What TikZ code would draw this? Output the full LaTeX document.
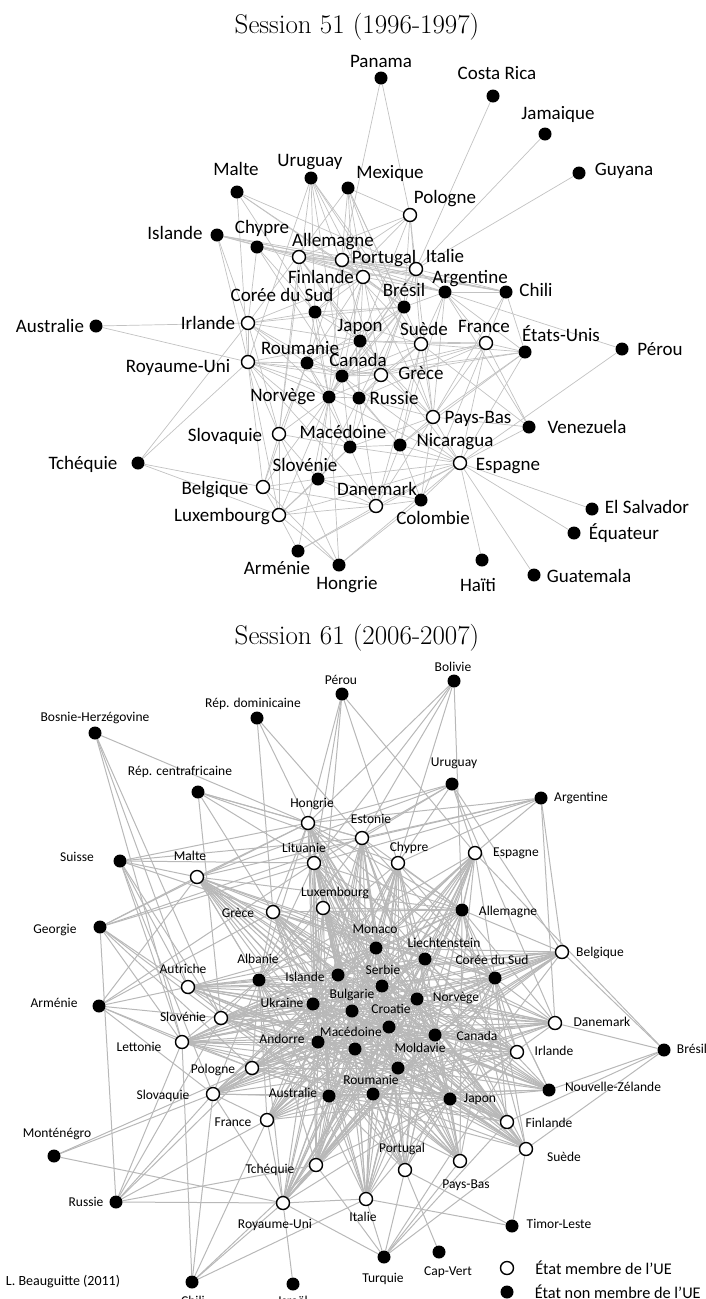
\documentclass[tikz,border=0pt]{standalone}
\usepackage{fontspec}
\newfontfamily\carl{Carlito}
\usetikzlibrary{backgrounds}

\tikzset{
  ue/.style={circle, draw=black, line width=1.4pt, fill=white, minimum size=13pt, inner sep=0pt},
  hors/.style={circle, fill=black, minimum size=13pt, inner sep=0pt},
  nomA/.style={font=\carl\fontsize{19}{19}\selectfont, inner sep=0pt, text height=12pt, text depth=0pt},
  nomB/.style={font=\carl\fontsize{13.5}{14}\selectfont, inner sep=0pt, text height=8.7pt, text depth=0pt},
  nomL/.style={font=\carl\fontsize{16.3}{17}\selectfont, inner sep=0pt},
  titre/.style={font=\fontsize{27}{32}\selectfont, inner sep=0pt},
  lienA/.style={draw=black!24, line width=0.7pt},
  lienB/.style={draw=black!28, line width=1pt},
}

\begin{document}
\begin{tikzpicture}[x=1pt, y=-1pt]
\useasboundingbox (0,0) rectangle (706,1299);

% ---- Session 51 ----
\node[titre] (titre51) at (357,27) {Session 51 (1996-1997)};

\node[hors, label={[nomA, shift={(0,-17)}]center:Panama}] (panama1) at (381,78) {};
\node[hors, label={[nomA, shift={(4,-23)}]center:Costa Rica}] (costarica1) at (493,96) {};
\node[hors, label={[nomA, shift={(13,-21)}]center:Jamaique}] (jamaique1) at (545,134) {};
\node[hors, label={[nomA, shift={(45,-4)}]center:Guyana}] (guyana1) at (579,173) {};
\node[hors, label={[nomA, shift={(-1,-23)}]center:Malte}] (malte1) at (237,192) {};
\node[hors, label={[nomA, shift={(-1,-18)}]center:Uruguay}] (uruguay1) at (311,178) {};
\node[hors, label={[nomA, shift={(42,-16)}]center:Mexique}] (mexique1) at (348,188) {};
\node[ue, label={[nomA, shift={(35,-18)}]center:Pologne}] (pologne1) at (410,215) {};
\node[hors, label={[nomA, shift={(-42,-2)}]center:Islande}] (islande1) at (217,235) {};
\node[hors, label={[nomA, shift={(5,-20)}]center:Chypre}] (chypre1) at (257,247) {};
\node[ue, label={[nomA, shift={(34,-17)}]center:Allemagne}] (allemagne1) at (299,257) {};
\node[ue, label={[nomA, shift={(42,-3)}]center:Portugal}] (portugal1) at (342,260) {};
\node[ue, label={[nomA, shift={(29,-13)}]center:Italie}] (italie1) at (416,269) {};
\node[ue, label={[nomA, shift={(-42,0)}]center:Finlande}] (finlande1) at (363,277) {};
\node[hors, label={[nomA, shift={(25,-15)}]center:Argentine}] (argentine1) at (445,292) {};
\node[hors, label={[nomA, shift={(30,-2)}]center:Chili}] (chili1) at (506,292) {};
\node[hors, label={[nomA, shift={(0,-17)}]center:Brésil}] (bresil1) at (404,307) {};
\node[hors, label={[nomA, shift={(-33,-17)}]center:Corée du Sud}] (coreedusud1) at (315,312) {};
\node[hors, label={[nomA, shift={(-46,0)}]center:Australie}] (australie1) at (96,326) {};
\node[ue, label={[nomA, shift={(-40,0)}]center:Irlande}] (irlande1) at (248,323) {};
\node[hors, label={[nomA, shift={(0,-16)}]center:Japon}] (japon1) at (360,341) {};
\node[ue, label={[nomA, shift={(3,-15)}]center:Suède}] (suede1) at (421,344) {};
\node[ue, label={[nomA, shift={(-2,-17)}]center:France}] (france1) at (486,343) {};
\node[hors, label={[nomA, shift={(36,-17)}]center:États-Unis}] (etatsunis1) at (525,352) {};
\node[hors, label={[nomA, shift={(38,0)}]center:Pérou}] (perou1) at (622,349) {};
\node[hors, label={[nomA, shift={(-7,-15)}]center:Roumanie}] (roumanie1) at (307,363) {};
\node[ue, label={[nomA, shift={(-70,4)}]center:Royaume-Uni}] (royaumeuni1) at (248,362) {};
\node[hors, label={[nomA, shift={(16,-16)}]center:Canada}] (canada1) at (342,376) {};
\node[ue, label={[nomA, shift={(40,-2)}]center:Grèce}] (grece1) at (381,375) {};
\node[hors, label={[nomA, shift={(-46,-2)}]center:Norvège}] (norvege1) at (329,397) {};
\node[hors, label={[nomA, shift={(35,0)}]center:Russie}] (russie1) at (359,398) {};
\node[ue, label={[nomA, shift={(45,0)}]center:Pays-Bas}] (paysbas1) at (433,417) {};
\node[hors, label={[nomA, shift={(58,0)}]center:Venezuela}] (venezuela1) at (529,427) {};
\node[ue, label={[nomA, shift={(-54,1)}]center:Slovaquie}] (slovaquie1) at (279,434) {};
\node[hors, label={[nomA, shift={(-7,-15)}]center:Macédoine}] (macedoine1) at (350,447) {};
\node[hors, label={[nomA, shift={(55,-5)}]center:Nicaragua}] (nicaragua1) at (400,445) {};
\node[hors, label={[nomA, shift={(-55,0)}]center:Tchéquie}] (tchequie1) at (138,463) {};
\node[ue, label={[nomA, shift={(48,1)}]center:Espagne}] (espagne1) at (460,463) {};
\node[hors, label={[nomA, shift={(-13,-14)}]center:Slovénie}] (slovenie1) at (318,479) {};
\node[ue, label={[nomA, shift={(-48,1)}]center:Belgique}] (belgique1) at (263,487) {};
\node[ue, label={[nomA, shift={(1,-17)}]center:Danemark}] (danemark1) at (376,506) {};
\node[hors, label={[nomA, shift={(12,18)}]center:Colombie}] (colombie1) at (421,500) {};
\node[ue, label={[nomA, shift={(-57,0)}]center:Luxembourg}] (luxembourg1) at (279,515) {};
\node[hors, label={[nomA, shift={(55,-2)}]center:El Salvador}] (elsalvador1) at (592,509) {};
\node[hors, label={[nomA, shift={(50,0)}]center:Équateur}] (equateur1) at (574,533) {};
\node[hors, label={[nomA, shift={(-21,17)}]center:Arménie}] (armenie1) at (298,551) {};
\node[hors, label={[nomA, shift={(8,18)}]center:Hongrie}] (hongrie1) at (339,565) {};
\node[hors, label={[nomA, shift={(-4,25)}]center:Haïti}] (haiti1) at (482,560) {};
\node[hors, label={[nomA, shift={(55,1)}]center:Guatemala}] (guatemala1) at (534,575) {};

\begin{scope}[on background layer]
\foreach \a/\liste in {%
  panama1/{portugal1,pologne1},%
  costarica1/{italie1},jamaique1/{italie1},guyana1/{italie1},%
  malte1/{royaumeuni1,italie1,finlande1,bresil1,coreedusud1},%
  uruguay1/{royaumeuni1,coreedusud1,canada1,suede1,grece1,paysbas1,slovaquie1,bresil1},%
  mexique1/{irlande1,bresil1,suede1,paysbas1,norvege1,russie1,grece1,pologne1},%
  pologne1/{allemagne1,portugal1,coreedusud1,suede1,bresil1,italie1,japon1},%
  islande1/{allemagne1,portugal1,italie1,chili1,argentine1,irlande1,royaumeuni1},%
  chypre1/{portugal1,chili1,finlande1,irlande1,coreedusud1,canada1},%
  allemagne1/{portugal1,italie1,chili1,argentine1,finlande1,japon1,grece1,espagne1,norvege1,slovaquie1},%
  portugal1/{italie1,finlande1,argentine1,chili1,bresil1,roumanie1,suede1},%
  italie1/{finlande1,argentine1,bresil1,chili1,japon1,canada1,paysbas1,norvege1},%
  australie1/{irlande1,royaumeuni1},%
  tchequie1/{irlande1,royaumeuni1,belgique1,luxembourg1},%
  perou1/{argentine1,espagne1},%
  espagne1/{elsalvador1,equateur1,haiti1,guatemala1,venezuela1,colombie1,danemark1,hongrie1,armenie1,nicaragua1,paysbas1,macedoine1,luxembourg1,etatsunis1,france1,norvege1,slovenie1,canada1},%
  venezuela1/{france1,paysbas1,suede1,argentine1},%
  chili1/{argentine1,france1,etatsunis1,paysbas1},%
  etatsunis1/{france1,suede1,argentine1,paysbas1,grece1,nicaragua1,canada1},%
  france1/{suede1,argentine1,grece1,paysbas1,russie1,canada1,japon1,colombie1},%
  argentine1/{bresil1,suede1,paysbas1,finlande1,nicaragua1},%
  bresil1/{finlande1,coreedusud1,japon1,canada1,russie1,norvege1,grece1,irlande1,roumanie1,macedoine1},%
  finlande1/{coreedusud1,japon1,irlande1,roumanie1,norvege1,canada1},%
  irlande1/{coreedusud1,roumanie1,canada1,royaumeuni1,japon1,norvege1,slovaquie1},%
  royaumeuni1/{roumanie1,canada1,norvege1,grece1,slovaquie1,belgique1,luxembourg1,japon1,russie1,danemark1,macedoine1},%
  coreedusud1/{japon1,canada1,roumanie1,norvege1,suede1},%
  japon1/{canada1,grece1,suede1,roumanie1,norvege1,russie1,paysbas1},%
  suede1/{grece1,canada1,paysbas1,nicaragua1,russie1,danemark1},%
  grece1/{canada1,russie1,norvege1,paysbas1,roumanie1},%
  canada1/{roumanie1,norvege1,russie1,macedoine1,nicaragua1},%
  roumanie1/{norvege1,slovaquie1,macedoine1,belgique1},%
  norvege1/{russie1,slovaquie1,macedoine1,slovenie1,luxembourg1,belgique1,armenie1,hongrie1},%
  russie1/{paysbas1,nicaragua1,macedoine1,danemark1,slovenie1},%
  paysbas1/{nicaragua1,colombie1,danemark1,macedoine1},%
  slovaquie1/{macedoine1,slovenie1,belgique1,luxembourg1,hongrie1},%
  macedoine1/{nicaragua1,slovenie1,danemark1,luxembourg1},%
  nicaragua1/{colombie1,danemark1},%
  slovenie1/{belgique1,luxembourg1,danemark1,colombie1},%
  belgique1/{luxembourg1,danemark1,hongrie1},%
  luxembourg1/{danemark1,armenie1,hongrie1},%
  danemark1/{colombie1,armenie1},%
  colombie1/{hongrie1}}
  \foreach \b in \liste \draw[lienA] (\a) -- (\b);
\end{scope}

% ---- Session 61 ----
\node[titre] (titre61) at (357,638) {Session 61 (2006-2007)};

\node[hors, label={[nomB, shift={(-1,-14)}]center:Bolivie}] (bolivie2) at (454,681) {};
\node[hors, label={[nomB, shift={(-1,-14)}]center:Pérou}] (perou2) at (342,694) {};
\node[hors, label={[nomB, shift={(-4,-15)}]center:Rép. dominicaine}] (repdominicaine2) at (257,718) {};
\node[hors, label={[nomB, shift={(0,-16)}]center:Bosnie-Herzégovine}] (bosnie2) at (95,733) {};
\node[hors, label={[nomB, shift={(2,-22)}]center:Uruguay}] (uruguay2) at (452,784) {};
\node[hors, label={[nomB, shift={(40,-1)}]center:Argentine}] (argentine2) at (541,798) {};
\node[hors, label={[nomB, shift={(-18,-21)}]center:Rép. centrafricaine}] (repcentrafricaine2) at (198,792) {};
\node[ue, label={[nomB, shift={(4,-20)}]center:Hongrie}] (hongrie2) at (308,823) {};
\node[ue, label={[nomB, shift={(9,-19)}]center:Estonie}] (estonie2) at (362,838) {};
\node[hors, label={[nomB, shift={(-43,-4)}]center:Suisse}] (suisse2) at (120,861) {};
\node[ue, label={[nomB, shift={(-7,-21)}]center:Malte}] (malte2) at (197,877) {};
\node[ue, label={[nomB, shift={(-10,-15)}]center:Lituanie}] (lituanie2) at (314,863) {};
\node[ue, label={[nomB, shift={(11,-16)}]center:Chypre}] (chypre2) at (398,863) {};
\node[ue, label={[nomB, shift={(41,-1)}]center:Espagne}] (espagne2) at (475,853) {};
\node[ue, label={[nomB, shift={(12,-16)}]center:Luxembourg}] (luxembourg2) at (323,908) {};
\node[ue, label={[nomB, shift={(-35,1)}]center:Grèce}] (grece2) at (273,912) {};
\node[hors, label={[nomB, shift={(46,1)}]center:Allemagne}] (allemagne2) at (462,910) {};
\node[hors, label={[nomB, shift={(-45,2)}]center:Georgie}] (georgie2) at (100,927) {};
\node[hors, label={[nomB, shift={(-1,-19)}]center:Monaco}] (monaco2) at (376,948) {};
\node[hors, label={[nomB, shift={(19,-16)}]center:Liechtenstein}] (liechtenstein2) at (425,959) {};
\node[ue, label={[nomB, shift={(38,0)}]center:Belgique}] (belgique2) at (562,952) {};
\node[hors, label={[nomB, shift={(-3,-18)}]center:Corée du Sud}] (coreedusud2) at (495,978) {};
\node[hors, label={[nomB, shift={(-1,-21)}]center:Albanie}] (albanie2) at (259,980) {};
\node[ue, label={[nomB, shift={(-5,-18)}]center:Autriche}] (autriche2) at (188,987) {};
\node[hors, label={[nomB, shift={(-33,2)}]center:Islande}] (islande2) at (338,975) {};
\node[hors, label={[nomB, shift={(1,-16)}]center:Serbie}] (serbie2) at (382,986) {};
\node[hors, label={[nomB, shift={(39,-2)}]center:Norvège}] (norvege2) at (417,999) {};
\node[hors, label={[nomB, shift={(-31,-1)}]center:Ukraine}] (ukraine2) at (313,1004) {};
\node[hors, label={[nomB, shift={(-45,-3)}]center:Arménie}] (armenie2) at (99,1006) {};
\node[hors, label={[nomB, shift={(0,-17)}]center:Bulgarie}] (bulgarie2) at (352,1011) {};
\node[hors, label={[nomB, shift={(2,-18)}]center:Croatie}] (croatie2) at (389,1027) {};
\node[ue, label={[nomB, shift={(-38,-1)}]center:Slovénie}] (slovenie2) at (221,1018) {};
\node[ue, label={[nomB, shift={(47,-1)}]center:Danemark}] (danemark2) at (555,1023) {};
\node[hors, label={[nomB, shift={(-4,-17)}]center:Macédoine}] (macedoine2) at (355,1049) {};
\node[hors, label={[nomB, shift={(42,1)}]center:Canada}] (canada2) at (435,1035) {};
\node[hors, label={[nomB, shift={(-36,-3)}]center:Andorre}] (andorre2) at (318,1042) {};
\node[ue, label={[nomB, shift={(-43,5)}]center:Lettonie}] (lettonie2) at (182,1042) {};
\node[hors, label={[nomB, shift={(22,-20)}]center:Moldavie}] (moldavie2) at (398,1068) {};
\node[ue, label={[nomB, shift={(37,-1)}]center:Irlande}] (irlande2) at (517,1052) {};
\node[hors, label={[nomB, shift={(28,-1)}]center:Brésil}] (bresil2) at (664,1050) {};
\node[ue, label={[nomB, shift={(-39,1)}]center:Pologne}] (pologne2) at (252,1068) {};
\node[hors, label={[nomB, shift={(64,-3)}]center:Nouvelle-Zélande}] (nouvellezelande2) at (549,1090) {};
\node[hors, label={[nomB, shift={(-2,-14)}]center:Roumanie}] (roumanie2) at (373,1094) {};
\node[hors, label={[nomB, shift={(-36,-3)}]center:Australie}] (australie2) at (329,1096) {};
\node[ue, label={[nomB, shift={(-50,1)}]center:Slovaquie}] (slovaquie2) at (213,1094) {};
\node[hors, label={[nomB, shift={(30,-1)}]center:Japon}] (japon2) at (450,1099) {};
\node[ue, label={[nomB, shift={(-34,2)}]center:France}] (france2) at (267,1120) {};
\node[ue, label={[nomB, shift={(42,1)}]center:Finlande}] (finlande2) at (507,1122) {};
\node[hors, label={[nomB, shift={(3,-23)}]center:Monténégro}] (montenegro2) at (54,1156) {};
\node[ue, label={[nomB, shift={(38,8)}]center:Suède}] (suede2) at (526,1149) {};
\node[ue, label={[nomB, shift={(-3,-22)}]center:Portugal}] (portugal2) at (405,1170) {};
\node[ue, label={[nomB, shift={(6,23)}]center:Pays-Bas}] (paysbas2) at (460,1161) {};
\node[ue, label={[nomB, shift={(-46,4)}]center:Tchéquie}] (tchequie2) at (316,1165) {};
\node[ue, label={[nomB, shift={(-3,18)}]center:Italie}] (italie2) at (366,1199) {};
\node[hors, label={[nomB, shift={(-30,0)}]center:Russie}] (russie2) at (116,1202) {};
\node[ue, label={[nomB, shift={(-8,21)}]center:Royaume-Uni}] (royaumeuni2) at (283,1203) {};
\node[hors, label={[nomB, shift={(47,-2)}]center:Timor-Leste}] (timorleste2) at (512,1226) {};
\node[hors, label={[nomB, shift={(-1,21)}]center:Turquie}] (turquie2) at (384,1257) {};
\node[hors, label={[nomB, shift={(9,19)}]center:Cap-Vert}] (capvert2) at (439,1252) {};
\node[hors, label={[nomB, shift={(1,19)}]center:Chili}] (chili2) at (192,1282) {};
\node[hors, label={[nomB, shift={(0,17)}]center:Israël}] (israel2) at (293,1284) {};

\begin{scope}[on background layer]
% les membres de l'UE vers le noyau
\foreach \u in {hongrie2,estonie2,lituanie2,chypre2,espagne2,luxembourg2,grece2,malte2,autriche2,%
slovenie2,lettonie2,pologne2,slovaquie2,france2,tchequie2,royaumeuni2,italie2,portugal2,%
paysbas2,suede2,finlande2,nouvellezelande2,irlande2,danemark2,belgique2}
  \foreach \c in {monaco2,liechtenstein2,coreedusud2,islande2,serbie2,albanie2,ukraine2,bulgarie2,%
croatie2,norvege2,macedoine2,andorre2,moldavie2,canada2,roumanie2,australie2,japon2,allemagne2}
    \draw[lienB] (\u) -- (\c);
\foreach \a/\liste in {%
  bolivie2/{hongrie2,estonie2,chypre2,allemagne2,lituanie2},%
  perou2/{hongrie2,lituanie2,espagne2,luxembourg2,chypre2},%
  repdominicaine2/{grece2,estonie2,hongrie2},%
  bosnie2/{hongrie2,lettonie2,slovenie2,autriche2},%
  repcentrafricaine2/{hongrie2,estonie2,grece2,slovenie2,chypre2,lituanie2},%
  uruguay2/{hongrie2,estonie2,lituanie2,chypre2,espagne2,malte2,belgique2,danemark2},%
  argentine2/{hongrie2,estonie2,lituanie2,chypre2,espagne2,belgique2,danemark2,malte2},%
  suisse2/{hongrie2,malte2,lituanie2,estonie2,grece2,autriche2,lettonie2,slovaquie2,slovenie2},%
  georgie2/{hongrie2,malte2,estonie2,lituanie2,autriche2,slovenie2,lettonie2,pologne2,russie2},%
  armenie2/{malte2,autriche2,slovenie2,lettonie2,pologne2,slovaquie2,grece2,lituanie2},%
  montenegro2/{slovaquie2,pologne2,royaumeuni2},%
  russie2/{royaumeuni2,slovaquie2,pologne2,lettonie2,slovenie2,tchequie2,france2},%
  chili2/{royaumeuni2,slovaquie2,france2,tchequie2,italie2,lettonie2},%
  israel2/{royaumeuni2},%
  turquie2/{royaumeuni2,italie2,portugal2,paysbas2,suede2,tchequie2,finlande2,irlande2},%
  capvert2/{portugal2},%
  timorleste2/{suede2,portugal2,italie2},%
  bresil2/{danemark2,belgique2,finlande2,suede2,nouvellezelande2,espagne2},%
  hongrie2/{malte2,grece2,estonie2},%
  slovaquie2/{france2,royaumeuni2,pologne2},%
  royaumeuni2/{tchequie2,france2,italie2}}
  \foreach \b in \liste \draw[lienB] (\a) -- (\b);
\end{scope}

% legende
\node[ue, label={[nomL, xshift=21pt]right:État membre de l’UE}] (cleue) at (507,1268) {};
\node[hors, label={[nomL, xshift=21pt]right:État non membre de l’UE}] (clehors) at (507,1292) {};
\node[font=\carl\fontsize{14}{14}\selectfont, inner sep=0pt] (auteur) at (63,1282) {L. Beauguitte (2011)};
\end{tikzpicture}
\end{document}
